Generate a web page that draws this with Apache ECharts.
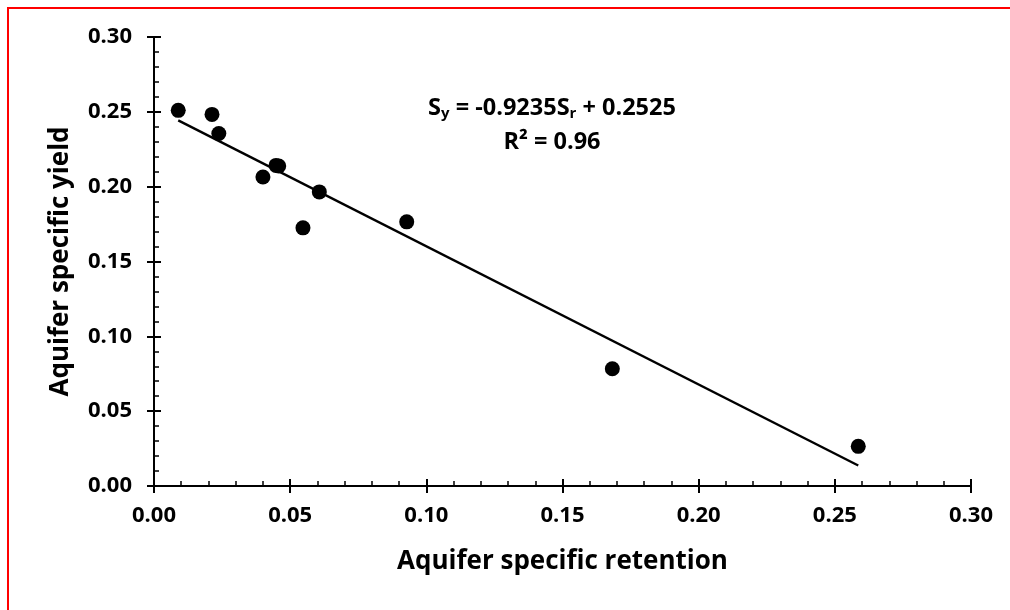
<!DOCTYPE html>
<html>
<head>
<meta charset="utf-8">
<script src="https://cdn.jsdelivr.net/npm/echarts@6/dist/echarts.min.js"></script>
<style>
  html, body { margin: 0; padding: 0; background: #fff; }
  #chart { width: 1010px; height: 610px; }
</style>
</head>
<body>
<div id="chart"></div>
<script>
// measured points (specific retention, specific yield)
var retention = [0.0089, 0.0213, 0.0238, 0.0400, 0.0448, 0.0458, 0.0547, 0.0607, 0.0928, 0.1683, 0.2586];
var yieldVals = [0.2510, 0.2483, 0.2355, 0.2065, 0.2142, 0.2138, 0.1725, 0.1965, 0.1765, 0.0783, 0.0265];
// trend line ends
var trendX = [0.0089, 0.2586];
var trendY = [0.2443, 0.0137];
var axisTicks = [0, 0.05, 0.10, 0.15, 0.20, 0.25, 0.30];

var pts = retention.map(function (x, i) { return [x, yieldVals[i]]; });
var trend = trendX.map(function (x, i) { return [x, trendY[i]]; });

var font = '"Open Sans", "Liberation Sans", sans-serif';
var black = '#000';

function tickLabel(margin) {
  return {
    color: black, fontFamily: font, fontWeight: 'bold', fontSize: 22, margin: margin,
    formatter: function (v) { return v.toFixed(2); }
  };
}

function mainAxis(extra) {
  var a = {
    type: 'value',
    min: axisTicks[0],
    max: axisTicks[axisTicks.length - 1],
    interval: 0.05,
    axisLine: { show: true, lineStyle: { color: black, width: 2 } },
    axisTick: { show: true, inside: true, length: 7, lineStyle: { color: black, width: 2 } },
    minorTick: { show: true, splitNumber: 5, length: 5, lineStyle: { color: black, width: 1.5 } },
    splitLine: { show: false },
    nameLocation: 'middle',
    nameTextStyle: { color: black, fontFamily: font, fontWeight: 'bold', fontSize: 26 }
  };
  for (var k in extra) a[k] = extra[k];
  return a;
}
// second axis only to draw the outer half of the major ticks
function outerAxis(extra) {
  var a = {
    type: 'value',
    min: axisTicks[0],
    max: axisTicks[axisTicks.length - 1],
    interval: 0.05,
    axisLine: { show: true, lineStyle: { color: black, width: 2 } },
    axisTick: { show: true, inside: false, length: 7, lineStyle: { color: black, width: 2 } },
    axisLabel: { show: false },
    splitLine: { show: false }
  };
  for (var k in extra) a[k] = extra[k];
  return a;
}

var myChart = echarts.init(document.getElementById('chart'));
myChart.setOption({
  backgroundColor: '#fff',
  animation: false,
  grid: { left: 154, right: 39, top: 37, bottom: 124 },
  xAxis: [
    mainAxis({ position: 'bottom', name: 'Aquifer specific retention', nameGap: 63, axisLabel: tickLabel(19) }),
    outerAxis({ position: 'bottom' })
  ],
  yAxis: [
    mainAxis({ position: 'left', name: 'Aquifer specific yield', nameGap: 80, axisLabel: tickLabel(22) }),
    outerAxis({ position: 'left' })
  ],
  graphic: [
    {
      type: 'rect', silent: true,
      shape: { x: 8, y: 8, width: 1200, height: 800 },
      style: { fill: 'none', stroke: '#ff0000', lineWidth: 2 }
    },
    {
      type: 'text', x: 552, y: 108,
      style: {
        text: '{m|S}{s|y}{m| = -0.9235S}{s|r}{m| + 0.2525}',
        align: 'center', verticalAlign: 'middle',
        rich: {
          m: { fontFamily: font, fontWeight: 'bold', fontSize: 23.5, color: black, lineHeight: 30 },
          s: { fontFamily: font, fontWeight: 'bold', fontSize: 15, color: black, lineHeight: 30, padding: [12, 0, 0, 0] }
        }
      }
    },
    {
      type: 'text', x: 552, y: 142,
      style: {
        text: 'R² = 0.96', align: 'center', verticalAlign: 'middle',
        fontFamily: font, fontWeight: 'bold', fontSize: 23.5, fill: black
      }
    }
  ],
  series: [
    {
      name: 'trend', type: 'line', data: trend,
      xAxisIndex: 0, yAxisIndex: 0,
      symbol: 'none', lineStyle: { color: black, width: 2.4 }, z: 2
    },
    {
      name: 'points', type: 'scatter', data: pts,
      xAxisIndex: 0, yAxisIndex: 0,
      symbol: 'circle', symbolSize: 15, itemStyle: { color: black, opacity: 1 }, z: 3
    }
  ]
});
</script>
</body>
</html>
